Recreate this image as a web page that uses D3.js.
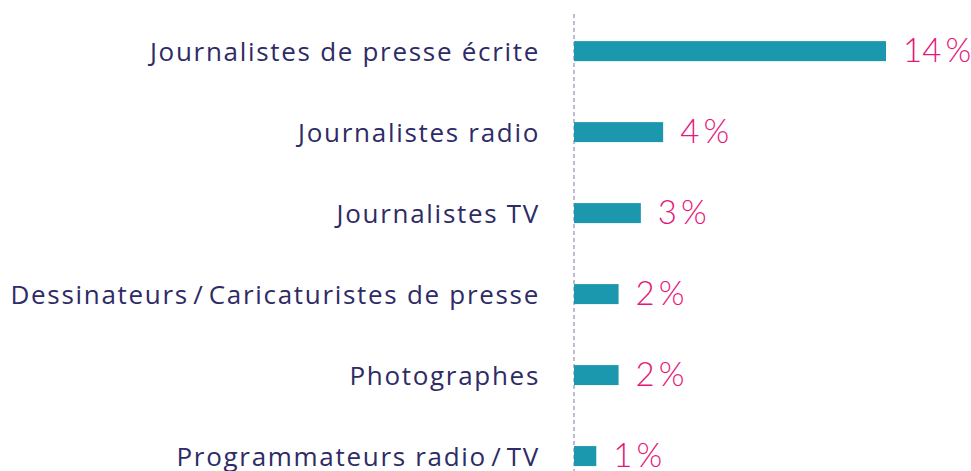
<!DOCTYPE html>
<html>
<head>
<meta charset="utf-8">
<script src="https://cdn.jsdelivr.net/npm/d3@7"></script>
<style>
  body { margin: 0; background: #fff; }
  svg { display: block; }
</style>
</head>
<body>
<script>
// data
var categories = [
    "Journalistes de presse écrite",
    "Journalistes radio",
    "Journalistes TV",
    "Dessinateurs\u200A/\u200ACaricaturistes de presse",
    "Photographes",
    "Programmateurs radio\u200A/\u200ATV"
];
var values = [14, 4, 3, 2, 2, 1];

var svgWidth = 971;
var svgHeight = 471;

var svg = d3.select("body").append("svg")
    .attr("width", svgWidth)
    .attr("height", svgHeight);

// scales
var xScale = d3.scaleLinear()
    .domain([0, 14])
    .range([574, 886]);

var yScale = d3.scaleBand()
    .domain(categories)
    .range([8.6, 498.6])
    .paddingInner(0.75)
    .paddingOuter(0.4);

// dashed baseline
svg.append("line")
    .attr("x1", xScale(0))
    .attr("x2", xScale(0))
    .attr("y1", 14)
    .attr("y2", svgHeight)
    .attr("stroke", "#a9a5c4")
    .attr("stroke-width", 1.5)
    .attr("stroke-dasharray", "4,3");

var rows = categories.map(function (c, i) { return { name: c, value: values[i] }; });

// bars
svg.selectAll("rect.bar")
    .data(rows)
    .enter()
    .append("rect")
    .attr("class", "bar")
    .attr("x", xScale(0))
    .attr("y", d => yScale(d.name) + yScale.bandwidth() / 2 - 10)
    .attr("width", d => xScale(d.value) - xScale(0))
    .attr("height", 20)
    .attr("fill", "#1b98ae");

// category labels (wide, spaced like the original typeface)
svg.selectAll("text.cat")
    .data(rows)
    .enter()
    .append("text")
    .attr("class", "cat")
    .attr("x", 540)
    .attr("y", d => yScale(d.name) + yScale.bandwidth() / 2 + 10)
    .attr("text-anchor", "end")
    .attr("font-family", "'Open Sans', sans-serif")
    .attr("font-size", 26)
    .attr("letter-spacing", "1.7px")
    .attr("fill", "#2e2b66")
    .text(d => d.name);

// value labels
svg.selectAll("text.val")
    .data(rows)
    .enter()
    .append("text")
    .attr("class", "val")
    .attr("x", d => xScale(d.value) + 17)
    .attr("y", d => yScale(d.name) + yScale.bandwidth() / 2 + 11)
    .attr("font-family", "Lato, sans-serif")
    .attr("font-weight", 300)
    .attr("font-size", 33)
    .attr("fill", "#e6177b")
    .text(d => d.value + "\u2009%");
</script>
</body>
</html>
